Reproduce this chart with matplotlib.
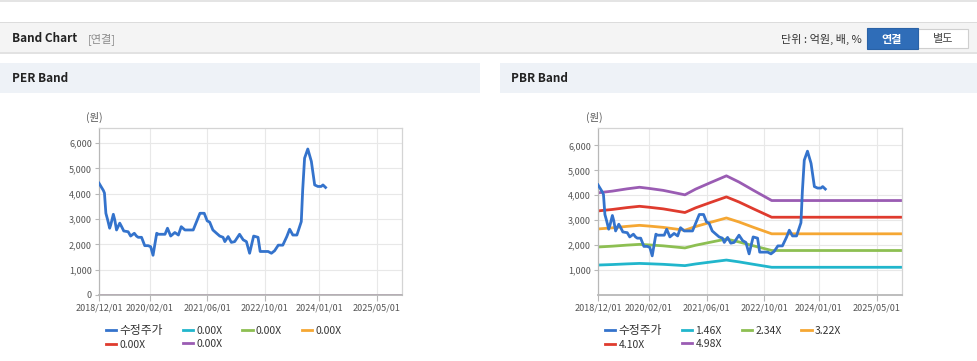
import pandas as pd
import matplotlib.pyplot as plt
import matplotlib.dates as mdates
from matplotlib.patches import Rectangle
from matplotlib.ticker import FuncFormatter

plt.rcParams['font.family'] = ['Noto Sans CJK KR', 'DejaVu Sans']

# price (수정주가)
price_dates = [
    '2018-12-01', '2019-01-07', '2019-01-16', '2019-01-28', '2019-02-12', '2019-03-01',
    '2019-03-10', '2019-04-01', '2019-04-13', '2019-04-28', '2019-05-25', '2019-06-10',
    '2019-06-28', '2019-08-04', '2019-08-25', '2019-09-25', '2019-10-13', '2019-10-28',
    '2019-11-25', '2019-12-22', '2020-01-19', '2020-02-10', '2020-03-01', '2020-04-01',
    '2020-04-16', '2020-05-25', '2020-06-10', '2020-07-01', '2020-07-28', '2020-09-01',
    '2020-10-01', '2020-10-25', '2020-11-25', '2021-02-03', '2021-04-01', '2021-05-07',
    '2021-06-01', '2021-06-22', '2021-07-19', '2021-08-19', '2021-09-15', '2021-10-13',
    '2021-10-28', '2021-11-25', '2021-12-22', '2022-01-19', '2022-03-01', '2022-04-01',
    '2022-04-28', '2022-05-25', '2022-06-28', '2022-08-04', '2022-08-22', '2022-10-28',
    '2022-11-25', '2022-12-22', '2023-01-22', '2023-03-01', '2023-04-04', '2023-04-28',
    '2023-05-25', '2023-06-28', '2023-08-04', '2023-08-16', '2023-09-01', '2023-09-28',
    '2023-10-28', '2023-11-25', '2023-12-22', '2024-01-19', '2024-02-03', '2024-02-25',
]
price = [
    4420, 4130, 4030, 3230, 2970, 2640,
    2770, 3190, 2970, 2570, 2840, 2700,
    2530, 2500, 2330, 2440, 2330, 2280,
    2280, 1950, 1950, 1910, 1570, 2440,
    2400, 2400, 2400, 2640, 2330, 2470,
    2370, 2700, 2570, 2570, 3230, 3230,
    2930, 2880, 2570, 2440, 2330, 2280,
    2110, 2310, 2080, 2110, 2400, 2180,
    2110, 1650, 2330, 2280, 1720, 1720,
    1650, 1750, 1970, 1970, 2310, 2600,
    2370, 2370, 2900, 4160, 5410, 5770,
    5280, 4350, 4290, 4290, 4350, 4250,
]

# PBR band lines
band_dates = [
    '2018-12-01', '2019-04-01', '2019-08-01', '2019-11-15', '2020-02-01',
    '2020-06-01', '2020-10-01', '2020-12-01', '2021-03-01', '2021-07-01',
    '2021-11-15', '2022-03-01', '2022-07-01', '2022-12-01', '2025-12-01',
]
pbr_146 = [1202, 1222, 1248, 1267, 1254, 1231, 1196, 1178, 1245, 1320, 1402, 1329, 1231, 1112, 1112]
pbr_234 = [1926, 1959, 2001, 2031, 2010, 1973, 1916, 1888, 1996, 2115, 2246, 2129, 1973, 1785, 1785]
pbr_322 = [2650, 2695, 2753, 2795, 2766, 2714, 2637, 2599, 2747, 2911, 3091, 2930, 2714, 2455, 2455]
pbr_410 = [3374, 3432, 3506, 3559, 3522, 3456, 3358, 3309, 3497, 3706, 3936, 3731, 3456, 3120, 3120]
pbr_498 = [4099, 4168, 4258, 4323, 4278, 4198, 4079, 4019, 4248, 4502, 4781, 4532, 4198, 3790, 3790]
pbr_labels = ['1.46X', '2.34X', '3.22X', '4.10X', '4.98X']

# PER bands are all zero
per_dates = ['2018-12-01', '2025-12-01']
per_zero = [0, 0]
per_labels = ['0.00X', '0.00X', '0.00X', '0.00X', '0.00X']

x_ticks = ['2018-12-01', '2020-02-01', '2021-06-01', '2022-10-01', '2024-01-01', '2025-05-01']

price_color = '#3473cc'
band_colors = ['#21b6cc', '#8dbf52', '#f5a733', '#df3b2e', '#9a5cb3']

W, H = 978, 361
fig = plt.figure(figsize=(W / 100, H / 100), dpi=100)
fig.patch.set_facecolor('white')


def fx(px):
    return px / W


def fy(py):
    return 1 - py / H


def box(x0, y0, x1, y1, fc, ec='none', lw=0.8):
    fig.patches.append(Rectangle((fx(x0), fy(y1)), fx(x1 - x0), (y1 - y0) / H,
                                 transform=fig.transFigure, facecolor=fc,
                                 edgecolor=ec, linewidth=lw))


# page header
box(0, 0, W, 2, '#e4e4e4')
box(0, 22, W, 53, '#f4f4f4')
box(0, 22, W, 23, '#dcdcdc')
box(0, 52, W, 54, '#e2e2e2')
fig.text(fx(12), fy(39), 'Band Chart', fontsize=8.5, fontweight='bold', color='#222222', va='center')
fig.text(fx(88), fy(39), '[연결]', fontsize=8, color='#8a8a8a', va='center')
fig.text(fx(862), fy(39), '단위 : 억원, 배, %', fontsize=8, color='#333333', va='center', ha='right')
box(918, 29, 968, 48, 'white', ec='#cfcfcf')
box(867, 28, 918, 49, '#2f6db8', ec='#2a62a6')
fig.text(fx(892), fy(39), '연결', fontsize=8, fontweight='bold', color='white', va='center', ha='center')
fig.text(fx(943), fy(39), '별도', fontsize=8, color='#444444', va='center', ha='center')

# panel headers
box(0, 63, 480, 93, '#eef2f7')
box(500, 63, W, 93, '#eef2f7')
fig.text(fx(12), fy(79), 'PER Band', fontsize=8.5, fontweight='bold', color='#222222', va='center')
fig.text(fx(511), fy(79), 'PBR Band', fontsize=8.5, fontweight='bold', color='#222222', va='center')


def style_axes(ax, ylim):
    ax.set_xlim(pd.Timestamp('2018-12-01'), pd.Timestamp('2025-12-01'))
    ax.set_ylim(*ylim)
    ax.set_xticks(pd.to_datetime(x_ticks))
    ax.xaxis.set_major_formatter(mdates.DateFormatter('%Y/%m/%d'))
    ax.set_yticks(range(0, 7000, 1000))
    ax.yaxis.set_major_formatter(FuncFormatter(lambda v, p: f'{int(v):,}'))
    ax.grid(True, color='#e8e8e8', linewidth=0.8)
    ax.set_axisbelow(True)
    for s in ax.spines.values():
        s.set_color('#d4d4d4')
        s.set_linewidth(0.9)
    ax.spines['left'].set_color('#b8b8b8')
    ax.spines['bottom'].set_color('#b8b8b8')
    ax.spines['bottom'].set_linewidth(1.3)
    ax.tick_params(axis='x', labelsize=6.5, colors='#b8b8b8', labelcolor='#555555', length=4, pad=2)
    ax.tick_params(axis='y', labelsize=6.5, colors='#b8b8b8', labelcolor='#555555', length=3, pad=2)


def add_legend(ax, handles, labels, x_px):
    # highcharts fills rows first, matplotlib columns first
    order = [0, 4, 1, 5, 2, 3]
    leg = ax.legend([handles[i] for i in order], [labels[i] for i in order],
                    ncol=4, loc='upper left', bbox_to_anchor=(fx(x_px), fy(324)),
                    bbox_transform=fig.transFigure, frameon=False, fontsize=7.5,
                    handlelength=1.0, handletextpad=0.3, columnspacing=1.9,
                    labelspacing=0.25, borderaxespad=0, borderpad=0)
    for t in leg.get_texts():
        t.set_color('#333333')
    leg.get_texts()[0].set_fontsize(8.5)


# PER panel
ax1 = fig.add_axes([fx(99), fy(295), fx(402 - 99), (295 - 128) / H])
hs = []
for c in band_colors:
    h, = ax1.plot(pd.to_datetime(per_dates), per_zero, color=c, linewidth=1.2, zorder=1)
    hs.append(h)
hp, = ax1.plot(pd.to_datetime(price_dates), price, color=price_color, linewidth=2, zorder=3)
style_axes(ax1, (0, 6600))
ax1.spines['bottom'].set_zorder(4)
fig.text(fx(94), fy(117), '(원)', fontsize=7.5, color='#555555', ha='center', va='center')
add_legend(ax1, [hp] + hs, ['수정주가'] + per_labels, 106)
for h in ax1.get_legend().legend_handles:
    h.set_linewidth(2)

# PBR panel
ax2 = fig.add_axes([fx(598), fy(295), fx(902 - 598), (295 - 128) / H])
hs = []
for vals, c in zip([pbr_146, pbr_234, pbr_322, pbr_410, pbr_498], band_colors):
    h, = ax2.plot(pd.to_datetime(band_dates), vals, color=c, linewidth=2, zorder=2)
    hs.append(h)
hp, = ax2.plot(pd.to_datetime(price_dates), price, color=price_color, linewidth=2, zorder=3)
style_axes(ax2, (180, 6700))
ax2.set_yticks(range(1000, 7000, 1000))
fig.text(fx(594), fy(117), '(원)', fontsize=7.5, color='#555555', ha='center', va='center')
add_legend(ax2, [hp] + hs, ['수정주가'] + pbr_labels, 605)

fig.savefig('out.png', dpi=100)
